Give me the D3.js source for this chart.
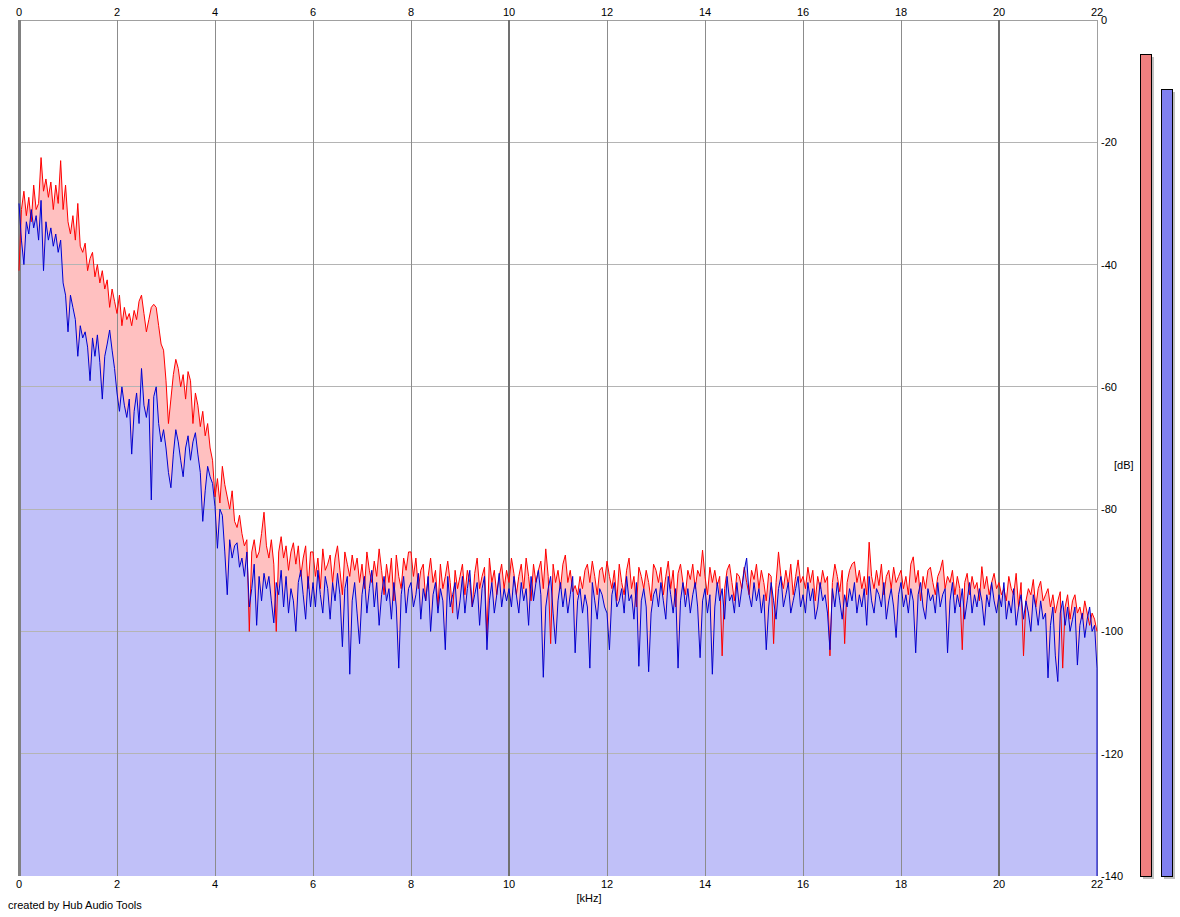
<!DOCTYPE html>
<html>
<head>
<meta charset="utf-8">
<script src="https://cdn.jsdelivr.net/npm/d3@7"></script>
<style>
  body { margin: 0; background: #fff; }
  text { font-family: "Liberation Sans", Arial, sans-serif; font-size: 11px; fill: #000; }
</style>
</head>
<body>
<script>
// spectrum samples, one every 0.05 kHz from 0 to 22 kHz (dB)
var freqStep = 0.05;

var redDb = [
  -41, -31, -28, -32, -29, -33, -27, -31, -30, -22.5, -28, -26, -29, -26.5, -31, -27, -30, -23, -31, -27,
  -33, -35, -32, -36, -30, -37, -38, -36.5, -41, -39, -38, -42, -40, -43, -41, -44, -42.5, -47, -44, -46,
  -48, -45, -50, -47, -49, -48, -50, -47.5, -49, -46, -45, -48, -51, -49, -47, -46.5, -47, -50, -53, -54,
  -59, -66, -62, -58, -55.5, -57, -60, -58, -62, -57.5, -59, -66, -61, -63, -66.5, -64, -68, -66, -70, -72,
  -78, -75, -79, -73, -76, -78, -80, -77, -82, -83, -81, -84, -86, -85, -100, -87, -85, -88, -87, -84,
  -80.5, -86, -88, -85, -89, -100, -87, -84.5, -88, -86, -90, -87, -85.5, -89, -86, -91, -88, -86, -93, -87,
  -87, -91, -88, -93, -86.5, -90, -89, -87.5, -92, -88, -86, -90, -94, -87, -89, -91, -87.5, -90, -88, -92,
  -89, -93, -87, -90, -92, -88.5, -91, -86.5, -90, -94, -89, -92, -88, -95, -87.5, -91, -93, -88, -90, -87,
  -87, -91, -88, -93, -90, -89, -95, -91, -88, -92, -90, -96, -89, -93, -91, -88.5, -92, -97, -90, -93,
  -91, -89, -94, -90, -92, -96, -90.5, -88, -93, -91, -89.5, -101, -88, -92, -90, -94, -91, -89, -93, -90,
  -92, -88, -90.5, -94, -91, -89, -93, -88, -91, -95, -89, -92, -90, -88.5, -93, -86.5, -91, -102, -89, -92,
  -90, -93, -89, -87.5, -92, -90, -93.5, -92.5, -94, -91, -93, -90, -89, -92, -88.5, -91, -94, -90, -89.5, -92,
  -88.5, -91, -93, -90, -95, -89, -92, -94, -90, -88, -93, -91, -96, -89.5, -91, -93, -90, -92, -95, -89,
  -90, -92, -89.5, -94, -91, -88.5, -93, -90, -96, -90.5, -89, -92, -94, -90, -91.5, -89, -93, -90, -91, -86.7,
  -91, -94, -89.5, -92, -90, -92.5, -91, -104, -93, -90, -89, -92, -95, -90.5, -91, -93, -89.5, -92, -94, -90,
  -91.5, -89, -93, -90, -92, -95, -90.5, -91, -102, -92, -87, -91, -93, -90, -92.5, -89, -94, -91, -88.3, -92,
  -91, -93, -89.5, -92, -90, -95, -91, -93, -90, -92, -91, -104, -92, -89, -91, -93.5, -90, -102, -92, -90,
  -89, -88.6, -92, -90, -93, -91, -94, -85.4, -91, -93, -90, -92.5, -89, -94, -91, -90, -93, -89.5, -92, -91,
  -90, -93, -91, -94, -89, -87.8, -92, -90, -95, -91, -93, -90, -89.5, -92, -94, -91, -90, -88.3, -93, -91,
  -92, -90, -94, -91, -93, -103, -92, -90.5, -94, -91, -93, -92, -95, -89.4, -93, -91, -94, -92, -90.5, -93,
  -92, -94, -93, -95, -91, -93, -94, -90.5, -96, -92, -104, -95, -93, -94, -91.5, -96, -93, -91.8, -95, -94,
  -93, -96, -94, -97, -95, -93.5, -106, -96, -94, -98, -95, -94, -97, -96, -98, -95, -97, -99, -97, -98,
  -100
];

var blueDb = [
  -30, -36, -40, -33, -35, -31, -34, -32, -36, -29.5, -41, -33, -36, -34, -37, -35, -38, -36, -43, -45,
  -51, -45, -47, -49, -55, -50, -52, -51, -53.5, -59, -52, -55, -51.5, -56, -62, -55, -53, -50.7, -54, -57,
  -61, -64, -60, -63, -65, -62, -71, -64, -61, -66, -57, -63, -65, -62, -78.5, -61.6, -60, -66, -69, -67,
  -70, -74, -76.5, -71, -67, -69, -72, -74.7, -70, -68, -72, -69, -67.5, -71, -74, -82, -77, -73, -74.7, -75.8,
  -79.6, -86.4, -80, -81, -87, -94, -85, -88, -86, -85.5, -89.5, -88, -91, -87, -96, -93, -89, -99, -91, -95,
  -90.5, -93, -91, -95, -98.6, -92, -94, -90, -96, -91, -97, -93, -95, -100, -92, -90, -94, -98, -91, -96,
  -92, -96, -90, -94, -97, -91, -93, -98, -92, -95, -90.5, -94, -102.5, -93, -91, -107, -95, -92, -97, -102,
  -94, -91, -97, -93, -90, -96, -92, -99, -94, -91, -95, -93, -98, -92, -96, -106, -94, -91, -97, -93,
  -92, -96, -94, -90.5, -98, -93, -95, -91, -100, -94, -92, -97, -93, -95, -103, -91, -96, -94, -92, -98,
  -95, -91, -97, -93, -90, -96, -94, -92, -99, -93, -91, -103, -95, -92, -97, -94, -90.5, -96, -93, -95,
  -93, -96, -91, -94, -97, -92, -95, -93, -99, -91, -95, -92, -90, -94, -107.5, -96, -93, -91, -97, -102,
  -95, -92, -96, -93, -97, -94, -91, -103.5, -95, -93, -97, -94, -96, -106, -92, -95, -98, -93, -94, -96,
  -97, -103, -94, -92, -96, -95, -93, -97, -91, -95, -94, -98, -92, -105.7, -95, -93, -96, -106.6, -97, -94,
  -93, -96, -92, -95, -98, -91, -94, -97, -93, -106, -95, -92, -96, -93, -97, -94, -92, -96, -104.3, -95,
  -93, -97, -94, -107, -96, -92, -95, -93, -98, -91, -95, -94, -97, -92, -96, -93, -90, -88, -94, -96,
  -92, -95, -93, -97, -94, -103, -96, -92, -95, -98, -93, -91, -96, -94, -92, -97, -95, -93, -91, -96,
  -94, -97, -92, -95, -93, -98, -96, -92, -95, -94, -97, -103, -93, -96, -92, -95, -98, -94, -96, -93,
  -95, -92, -97, -94, -96, -93, -99, -91, -95, -97, -93, -94, -96, -92, -98, -95, -93, -96, -101, -94,
  -92, -96, -94, -97, -93, -95, -103.5, -94, -92, -96, -98, -93, -95, -94, -97, -92, -96, -94, -93, -103.5,
  -95, -92, -97, -94, -96, -93, -98, -95, -92, -97, -94, -96, -93, -95, -99, -94, -96, -92, -95, -97,
  -94, -96, -92, -98, -95, -97, -93, -99, -96, -94, -98, -95, -97, -100, -94, -96, -99, -95, -98, -97,
  -107.6, -99, -96, -104, -108.2, -97, -95, -99, -96, -100, -98, -96, -105.5, -99, -97, -101, -98, -96, -100, -99,
  -106
];

// level meters on the right (dB)
var meterNames = ["L", "R"];
var meterDb = [-5.6, -11.3];
var meterFill = ["#f08080", "#8080f0"];

var xTicks = [0, 2, 4, 6, 8, 10, 12, 14, 16, 18, 20, 22];
var yTicks = [0, -20, -40, -60, -80, -100, -120, -140];

var width = 1180, height = 917;
var plotLeft = 19, plotRight = 1097, plotTop = 20, plotBottom = 876;

var x = d3.scaleLinear().domain([0, 22]).range([plotLeft, plotRight]);
var y = d3.scaleLinear().domain([0, -140]).range([plotTop, plotBottom]);

function toPoints(arr) {
  return arr.map(function(v, i) { return [i * freqStep, v]; });
}
var redPts = toPoints(redDb);
var bluePts = toPoints(blueDb);

var svg = d3.select("body").append("svg")
  .attr("width", width)
  .attr("height", height);

var area = d3.area()
  .x(function(d) { return x(d[0]); })
  .y0(y(-140))
  .y1(function(d) { return y(d[1]); });

var line = d3.line()
  .x(function(d) { return x(d[0]); })
  .y(function(d) { return y(d[1]); });

svg.append("path").datum(redPts)
  .attr("d", area)
  .attr("fill", "#ffc0c0");

svg.append("path").datum(bluePts)
  .attr("d", area)
  .attr("fill", "#c0c0f8");

// grid
var grid = svg.append("g").attr("shape-rendering", "crispEdges");

grid.selectAll(".hline")
  .data(yTicks.slice(1, -1))
  .enter().append("line")
  .attr("x1", plotLeft).attr("x2", plotRight)
  .attr("y1", function(d) { return y(d); })
  .attr("y2", function(d) { return y(d); })
  .attr("stroke", "#b4b4b4");

grid.append("line")
  .attr("x1", plotLeft).attr("x2", plotRight)
  .attr("y1", plotTop).attr("y2", plotTop)
  .attr("stroke", "#a0a0a0");

grid.selectAll(".vline")
  .data(xTicks.slice(1, -1))
  .enter().append("line")
  .attr("x1", function(d) { return x(d); })
  .attr("x2", function(d) { return x(d); })
  .attr("y1", plotTop).attr("y2", plotBottom)
  .attr("stroke", function(d) { return d % 10 === 0 ? "#707070" : "#8c8c8c"; })
  .attr("stroke-width", function(d) { return d % 10 === 0 ? 2 : 1; });

grid.append("line")
  .attr("x1", plotLeft).attr("x2", plotLeft)
  .attr("y1", plotTop).attr("y2", plotBottom)
  .attr("stroke", "#808080")
  .attr("stroke-width", 3);

grid.append("line")
  .attr("x1", plotRight).attr("x2", plotRight)
  .attr("y1", plotTop).attr("y2", plotBottom)
  .attr("stroke", "#a0a0a0");

svg.append("path").datum(redPts)
  .attr("d", line)
  .attr("fill", "none")
  .attr("stroke", "#ff0000")
  .attr("stroke-width", 1);

svg.append("path").datum(bluePts.concat([[22, -140]]))
  .attr("d", line)
  .attr("fill", "none")
  .attr("stroke", "#0000d0")
  .attr("stroke-width", 1);

// x labels, top and bottom
svg.selectAll(".xtop")
  .data(xTicks)
  .enter().append("text")
  .attr("x", function(d) { return x(d); })
  .attr("y", 16)
  .attr("text-anchor", "middle")
  .text(function(d) { return d; });

svg.selectAll(".xbot")
  .data(xTicks)
  .enter().append("text")
  .attr("x", function(d) { return x(d); })
  .attr("y", 888)
  .attr("text-anchor", "middle")
  .text(function(d) { return d; });

// y labels on the right
svg.selectAll(".ylab")
  .data(yTicks)
  .enter().append("text")
  .attr("x", plotRight + 4)
  .attr("y", function(d) { return y(d) + 4; })
  .text(function(d) { return d; });

svg.append("text")
  .attr("x", 1114).attr("y", 469)
  .text("[dB]");

svg.append("text")
  .attr("x", 589).attr("y", 902)
  .attr("text-anchor", "middle")
  .text("[kHz]");

svg.append("text")
  .attr("x", 8).attr("y", 909)
  .text("created by Hub Audio Tools");

// meters
var meterX = d3.scaleBand().domain(meterNames).range([1140, 1172]).paddingInner(0.5);

var meters = svg.selectAll(".meter")
  .data(meterNames)
  .enter().append("g")
  .attr("shape-rendering", "crispEdges");

meters.append("rect")
  .attr("x", function(d) { return meterX(d) + 3; })
  .attr("y", function(d, i) { return y(meterDb[i]) + 3; })
  .attr("width", meterX.bandwidth())
  .attr("height", function(d, i) { return y(-140) - y(meterDb[i]); })
  .attr("fill", "#c0c0c0");

meters.append("rect")
  .attr("x", function(d) { return meterX(d) + 0.5; })
  .attr("y", function(d, i) { return y(meterDb[i]) + 0.5; })
  .attr("width", meterX.bandwidth())
  .attr("height", function(d, i) { return y(-140) - y(meterDb[i]); })
  .attr("fill", function(d, i) { return meterFill[i]; })
  .attr("stroke", "#000");
</script>
</body>
</html>
